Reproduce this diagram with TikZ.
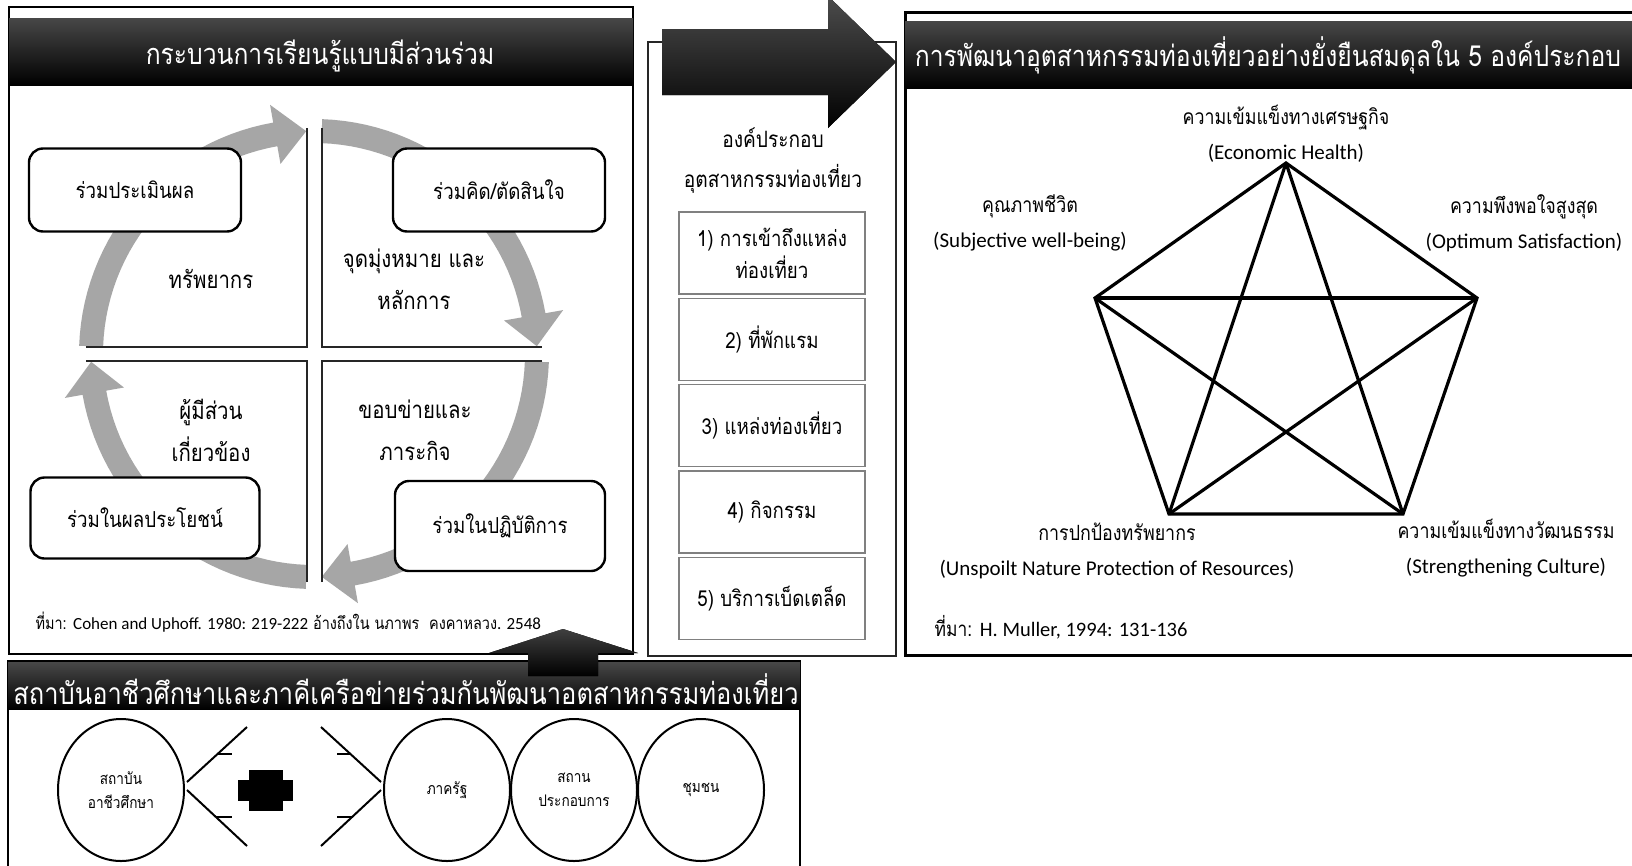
\documentclass[tikz,border=0pt]{standalone}
\usepackage{fontspec}
\setmainfont{Loma}[Script=Thai,FakeStretch=0.85]
\newfontfamily\enfont{Carlito}
\newcommand\entext[1]{{\enfont#1}}
\usetikzlibrary{shapes.geometric,positioning}
\definecolor{ringgray}{RGB}{166,166,166}
\definecolor{itemgray}{RGB}{128,128,128}
\tikzset{
	panel/.style={draw=black,line width=2.6pt},
	titlebar/.style={top color=black!72,bottom color=black,draw=none},
	titletext/.style={text=white,anchor=base,font=\fontsize{29}{32}\selectfont},
	cyclebox/.style={draw,line width=2.4pt,rounded corners=14pt,fill=white,font=\fontsize{22}{26}\selectfont},
	quadline/.style={draw=black!85,line width=2.2pt},
	quadtext/.style={align=center,font=\fontsize{24}{42}\selectfont},
	itembox/.style={draw=itemgray,line width=1.3pt,minimum width=186pt,minimum height=82pt,align=center,font=\fontsize{22}{32}\selectfont},
	starline/.style={line width=3.2pt,line join=miter},
	pentlabel/.style={align=center,font=\fontsize{21}{35}\selectfont},
	srctext/.style={anchor=west,font=\fontsize{17}{20}\selectfont},
	bubble/.style={draw,ellipse,line width=2pt,minimum width=126pt,minimum height=142pt,inner sep=0pt,align=center,font=\fontsize{16}{24}\selectfont},
	chevline/.style={line width=2pt}
}
\begin{document}
\begin{tikzpicture}[x=1pt,y=-1pt]
	\useasboundingbox (0,0) rectangle (1632,865);
	\clip (0,0) rectangle (1632,865);
	\fill[white] (0,0) rectangle (1632,865);

	\draw[panel] (9,7) rectangle (633,654);
	\fill[titlebar] (9,18) rectangle (633,85);
	\node[titletext] (ttlLearn) at (320,64) {กระบวนการเรียนรู้แบบมีส่วนร่วม};

	\foreach \a [evaluate=\a as \ts using \a-2, evaluate=\a as \hb using \a-80, evaluate=\a as \te using \a-88] in {90,0,-90,180}
		\fill[ringgray] plot[domain=\ts:\hb,samples=30] ({314+235*cos(\x)},{354-235*sin(\x)})
			-- ({314+253*cos(\hb)},{354-253*sin(\hb)})
			-- ({314+223*cos(\te)},{354-223*sin(\te)})
			-- ({314+193*cos(\hb)},{354-193*sin(\hb)})
			-- plot[domain=\hb:\ts,samples=30] ({314+211*cos(\x)},{354-211*sin(\x)}) -- cycle;

	\draw[quadline] (86,347) -- (307,347) -- (307,128);
	\draw[quadline] (322,128) -- (322,347) -- (542,347);
	\draw[quadline] (86,361) -- (307,361) -- (307,582);
	\draw[quadline] (322,582) -- (322,361) -- (542,361);

	\node[cyclebox,minimum width=212pt,minimum height=83pt] (evalBox) at (135,190) {ร่วมประเมินผล};
	\node[cyclebox,minimum width=212pt,minimum height=83pt] (thinkBox) at (499,190) {ร่วมคิด/ตัดสินใจ};
	\node[cyclebox,minimum width=229pt,minimum height=81pt] (benefitBox) at (145,518) {ร่วมในผลประโยชน์};
	\node[cyclebox,minimum width=210pt,minimum height=90pt] (actBox) at (500,526) {ร่วมในปฏิบัติการ};

	\node[quadtext] (resTxt) at (211,279) {ทรัพยากร};
	\node[quadtext] (goalTxt) at (414,279) {จุดมุ่งหมาย และ\\หลักการ};
	\node[quadtext] (stakeTxt) at (211,430) {ผู้มีส่วน\\เกี่ยวข้อง};
	\node[quadtext] (scopeTxt) at (415,430) {ขอบข่ายและ\\ภาระกิจ};

	\node[srctext] (srcLearn) at (32,622) {ที่มา: \entext{Cohen and Uphoff. 1980: 219-222} อ้างถึงใน นภาพร~~คงคาหลวง\entext{. 2548}};

	\draw[draw=black!85,line width=1.5pt] (648,42) rectangle (896,656);
	\node[font=\fontsize{22.5}{40}\selectfont,align=center] (partsTxt) at (773,161) {องค์ประกอบ\\อุตสาหกรรมท่องเที่ยว};
	\node[itembox] (item1) at (772,253) {1) การเข้าถึงแหล่ง\\ท่องเที่ยว};
	\node[itembox,below=3pt of item1] (item2) {2) ที่พักแรม};
	\node[itembox,below=3pt of item2] (item3) {3) แหล่งท่องเที่ยว};
	\node[itembox,below=3pt of item3] (item4) {4) กิจกรรม};
	\node[itembox,below=3pt of item4] (item5) {5) บริการเบ็ดเตล็ด};
	\fill[top color=black!70,bottom color=black] (662,29) -- (828,29) -- (828,-4) -- (896,62) -- (828,128) -- (828,95) -- (662,95) -- cycle;

	\draw[panel,line width=3pt] (905,12) rectangle (1660,655);
	\fill[titlebar] (905,21) rectangle (1660,88);
	\node[titletext] (ttlDev) at (1268,66) {การพัฒนาอุตสาหกรรมท่องเที่ยวอย่างยั่งยืนสมดุลใน 5 องค์ประกอบ};

	\coordinate (econ) at (1286,163);
	\coordinate (life) at (1095,298);
	\coordinate (satis) at (1477,298);
	\coordinate (nature) at (1169,514);
	\coordinate (culture) at (1403,514);
	\draw[starline] (econ) -- (life) -- (nature) -- (culture) -- (satis) -- cycle;
	\foreach \p/\q in {econ/nature,econ/culture,life/satis,life/culture,satis/nature}
		\draw[starline] (\p) -- (\q);

	\node[pentlabel] (econTxt) at (1286,134) {ความเข้มแข็งทางเศรษฐกิจ\\\entext{(Economic Health)}};
	\node[pentlabel] (lifeTxt) at (1030,223) {คุณภาพชีวิต\\\entext{(Subjective well-being)}};
	\node[pentlabel] (satisTxt) at (1524,223) {ความพึงพอใจสูงสุด\\\entext{(Optimum Satisfaction)}};
	\node[pentlabel] (natureTxt) at (1117,551) {การปกป้องทรัพยากร\\\entext{(Unspoilt Nature Protection of Resources)}};
	\node[pentlabel] (cultureTxt) at (1506,548) {ความเข้มแข็งทางวัฒนธรรม\\\entext{(Strengthening Culture)}};
	\node[srctext,font=\fontsize{20.5}{22}\selectfont] (srcDev) at (931,627) {ที่มา: \entext{H. Muller, 1994: 131-136}};

	\draw[panel] (8,661) rectangle (800,880);
	\fill[titlebar] (8,662) rectangle (800,709);
	\node[titletext,font=\fontsize{30}{32}\selectfont] (ttlNet) at (406,704) {สถาบันอาชีวศึกษาและภาคีเครือข่ายร่วมกันพัฒนาอตสาหกรรมท่องเที่ยว};
	\fill[top color=black!75,bottom color=black] (528,676) -- (528,653) -- (489,653) -- (563,629) -- (638,653) -- (598,653) -- (598,676) -- cycle;

	\node[bubble] (inst) at (121,790) {สถาบัน\\อาชีวศึกษา};
	\node[bubble] (gov) at (447,790) {ภาครัฐ};
	\node[bubble,right=-1pt of gov] (biz) {สถาน\\ประกอบการ};
	\node[bubble,right=-1pt of biz] (comm) {ชุมชน};

	\draw[chevline] (247,727) -- (187,782);
	\draw[chevline] (187,790) -- (247,846);
	\draw[chevline] (218,754) -- (232,754);
	\draw[chevline] (216,817) -- (232,817);
	\draw[chevline] (321,727) -- (381,782);
	\draw[chevline] (381,790) -- (321,846);
	\draw[chevline] (337,754) -- (350,754);
	\draw[chevline] (337,817) -- (352,817);
	\fill[black] (249,770) rectangle (283,811);
	\fill[black] (238,780) rectangle (293,801);
\end{tikzpicture}
\end{document}
